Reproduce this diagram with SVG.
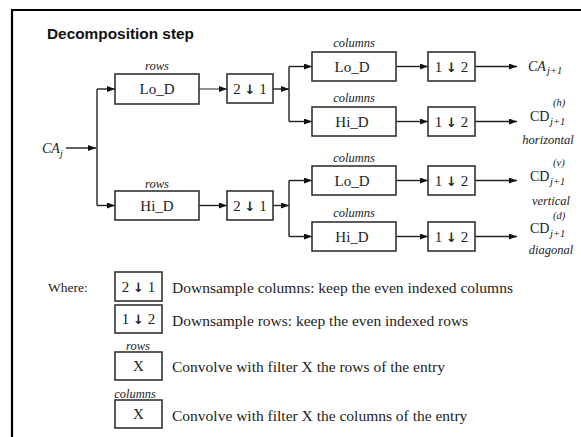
<svg xmlns="http://www.w3.org/2000/svg" width="581" height="437" viewBox="0 0 581 437">
<defs>
<marker id="ah" markerUnits="userSpaceOnUse" markerWidth="8" markerHeight="6" refX="8" refY="3" orient="auto">
<path d="M0,0 L8,3 L0,6 z" fill="#111"/>
</marker>
<style>
.box{fill:#fff;stroke:#333;stroke-width:1.6}
.t{font-family:"Liberation Serif","Times New Roman",serif;fill:#222}
.bt{font-size:15px;text-anchor:middle}
.lab{font-size:12.5px;font-style:italic;text-anchor:middle}
.it{font-style:italic}
.ln{fill:none;stroke:#222;stroke-width:1.4}
.ar{marker-end:url(#ah)}
.leg{font-size:15.5px}
.dn{font-family:"DejaVu Sans",sans-serif;font-weight:bold;font-size:13px}
</style>
</defs>
<rect x="0" y="0" width="581" height="437" fill="#fff"/>
<path d="M11,10 H581 M12,10 V437" fill="none" stroke="#000" stroke-width="2.2"/>
<text x="47" y="39" font-family="Liberation Sans,Arial,sans-serif" font-weight="bold" font-size="14" fill="#111" textLength="147" lengthAdjust="spacingAndGlyphs">Decomposition step</text>

<g id="connectors">
<path class="ln ar" d="M66,148 H96"/>
<path class="ln" d="M97,89 V205.5"/>
<path class="ln ar" d="M97,89 H115"/>
<path class="ln ar" d="M97,205.5 H115"/>
<path class="ln ar" d="M199,89 H227" style="stroke:#666"/>
<path class="ln ar" d="M199,205.5 H227"/>
<path class="ln ar" d="M273,89 H289"/>
<path class="ln ar" d="M273,205.5 H289"/>
<path class="ln" d="M289,66.5 V121.5 M289,180.5 V236.5"/>
<path class="ln ar" d="M289,66.5 H312"/>
<path class="ln ar" d="M289,121.5 H312"/>
<path class="ln ar" d="M289,180.5 H312"/>
<path class="ln ar" d="M289,236.5 H312"/>
<path class="ln ar" d="M396,66.5 H428"/>
<path class="ln ar" d="M396,121.5 H428"/>
<path class="ln ar" d="M396,180.5 H428"/>
<path class="ln ar" d="M396,236.5 H428"/>
<path class="ln ar" d="M475,66.5 H517"/>
<path class="ln ar" d="M475,121.5 H517"/>
<path class="ln ar" d="M475,180.5 H517"/>
<path class="ln ar" d="M475,236.5 H517"/>
</g>

<g id="input">
<text class="t it" x="42" y="153" font-size="14">CA</text>
<text class="t it" x="60" y="157" font-size="10">j</text>
</g>

<g id="rowLo">
<text class="t lab" x="157" y="70">rows</text>
<rect class="box" x="115" y="74" width="84" height="30"/>
<text class="t bt" x="157" y="94">Lo_D</text>
</g>
<g id="rowHi">
<text class="t lab" x="157" y="188">rows</text>
<rect class="box" x="115" y="191" width="84" height="29"/>
<text class="t bt" x="157" y="210.5">Hi_D</text>
</g>
<g id="ds1">
<rect class="box" x="227" y="74" width="46" height="29"/>
<text class="t bt" x="250" y="94">2 <tspan class="dn">↓</tspan> 1</text>
</g>
<g id="ds2">
<rect class="box" x="227" y="191" width="46" height="29"/>
<text class="t bt" x="250" y="210.5">2 <tspan class="dn">↓</tspan> 1</text>
</g>

<g id="colA">
<text class="t lab" x="354" y="47">columns</text>
<rect class="box" x="312" y="52" width="84" height="29"/>
<text class="t bt" x="352" y="71.5">Lo_D</text>
</g>
<g id="colB">
<text class="t lab" x="354" y="102">columns</text>
<rect class="box" x="312" y="107" width="84" height="29"/>
<text class="t bt" x="352" y="126.5">Hi_D</text>
</g>
<g id="colC">
<text class="t lab" x="354" y="162">columns</text>
<rect class="box" x="312" y="166" width="84" height="29"/>
<text class="t bt" x="352" y="185.5">Lo_D</text>
</g>
<g id="colD">
<text class="t lab" x="354" y="217">columns</text>
<rect class="box" x="312" y="222" width="84" height="29"/>
<text class="t bt" x="352" y="241.5">Hi_D</text>
</g>

<g id="dsA"><rect class="box" x="428" y="52" width="47" height="29"/><text class="t bt" x="451.5" y="71.5">1 <tspan class="dn">↓</tspan> 2</text></g>
<g id="dsB"><rect class="box" x="428" y="107" width="47" height="29"/><text class="t bt" x="451.5" y="126.5">1 <tspan class="dn">↓</tspan> 2</text></g>
<g id="dsC"><rect class="box" x="428" y="166" width="47" height="29"/><text class="t bt" x="451.5" y="185.5">1 <tspan class="dn">↓</tspan> 2</text></g>
<g id="dsD"><rect class="box" x="428" y="222" width="47" height="29"/><text class="t bt" x="451.5" y="241.5">1 <tspan class="dn">↓</tspan> 2</text></g>

<g id="outA">
<text class="t it" x="528" y="71" font-size="14">CA</text>
<text class="t it" x="547" y="74" font-size="10.5">j+1</text>
</g>
<g id="outH">
<text class="t it" x="553" y="106" font-size="10.5">(h)</text>
<text class="t" x="530" y="121" font-size="14">CD</text>
<text class="t it" x="550" y="125" font-size="10.5">j+1</text>
<text class="t it" x="548" y="144" font-size="12.5" text-anchor="middle">horizontal</text>
</g>
<g id="outV">
<text class="t it" x="553" y="166" font-size="10.5">(v)</text>
<text class="t" x="530" y="181" font-size="14">CD</text>
<text class="t it" x="550" y="185" font-size="10.5">j+1</text>
<text class="t it" x="551" y="205" font-size="12.5" text-anchor="middle">vertical</text>
</g>
<g id="outD">
<text class="t it" x="553" y="219" font-size="10.5">(d)</text>
<text class="t" x="530" y="233" font-size="14">CD</text>
<text class="t it" x="550" y="237" font-size="10.5">j+1</text>
<text class="t it" x="551" y="254" font-size="12.5" text-anchor="middle">diagonal</text>
</g>

<g id="legend">
<text class="t" x="48" y="292" font-size="13.5">Where:</text>
<rect class="box" x="115" y="272" width="47" height="29"/>
<text class="t bt" x="138.5" y="291.5">2 <tspan class="dn">↓</tspan> 1</text>
<text class="t leg" x="172" y="293">Downsample columns: keep the even indexed columns</text>
<rect class="box" x="115" y="305" width="47" height="28"/>
<text class="t bt" x="138.5" y="324">1 <tspan class="dn">↓</tspan> 2</text>
<text class="t leg" x="172" y="326">Downsample rows: keep the even indexed rows</text>
<text class="t lab" x="138" y="350" font-size="11">rows</text>
<rect class="box" x="115" y="352" width="47" height="28"/>
<text class="t bt" x="138.5" y="371">X</text>
<text class="t leg" x="172" y="372">Convolve with filter X the rows of the entry</text>
<text class="t lab" x="135" y="398" font-size="11">columns</text>
<rect class="box" x="115" y="400" width="47" height="28"/>
<text class="t bt" x="138.5" y="419">X</text>
<text class="t leg" x="172" y="421">Convolve with filter X the columns of the entry</text>
</g>
</svg>
